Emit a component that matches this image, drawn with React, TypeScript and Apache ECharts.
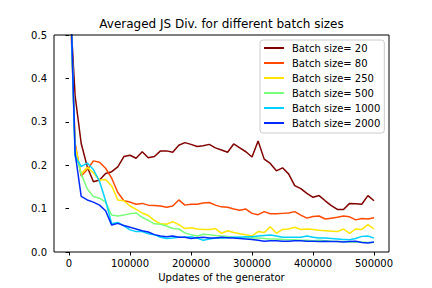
import React, { useEffect, useRef } from "react";
import * as echarts from "echarts";

const steps = [
  0, 10000, 20000, 30000, 40000, 50000, 60000, 70000, 80000, 90000,
  100000, 110000, 120000, 130000, 140000, 150000, 160000, 170000, 180000, 190000,
  200000, 210000, 220000, 230000, 240000, 250000, 260000, 270000, 280000, 290000,
  300000, 310000, 320000, 330000, 340000, 350000, 360000, 370000, 380000, 390000,
  400000, 410000, 420000, 430000, 440000, 450000, 460000, 470000, 480000, 490000,
  500000,
];

const batch20 = [
  0.61, 0.36, 0.25, 0.196, 0.162, 0.166, 0.181, 0.185, 0.196, 0.22,
  0.223, 0.216, 0.231, 0.217, 0.22, 0.233, 0.233, 0.23, 0.246, 0.252,
  0.248, 0.243, 0.245, 0.248, 0.24, 0.235, 0.23, 0.249, 0.24, 0.231,
  0.219, 0.256, 0.214, 0.204, 0.187, 0.194, 0.18, 0.153, 0.146, 0.135,
  0.126, 0.13, 0.118, 0.107, 0.098, 0.098, 0.112, 0.111, 0.11, 0.13,
  0.118,
];
const batch80 = [
  0.65, 0.251, 0.175, 0.19, 0.21, 0.207, 0.193, 0.17, 0.137, 0.118,
  0.115, 0.11, 0.112, 0.108, 0.107, 0.106, 0.103, 0.106, 0.12, 0.108,
  0.11, 0.11, 0.113, 0.114, 0.108, 0.104, 0.103, 0.099, 0.096, 0.099,
  0.089, 0.086, 0.093, 0.088, 0.088, 0.089, 0.09, 0.093, 0.085, 0.078,
  0.082, 0.083, 0.076, 0.078, 0.08, 0.083, 0.081, 0.074, 0.077, 0.076,
  0.079,
];
const batch250 = [
  0.68, 0.245, 0.18, 0.195, 0.182, 0.166, 0.167, 0.152, 0.12, 0.118,
  0.106, 0.098, 0.09, 0.084, 0.073, 0.065, 0.064, 0.07, 0.063, 0.054,
  0.056, 0.053, 0.052, 0.052, 0.054, 0.043, 0.049, 0.045, 0.042, 0.04,
  0.037, 0.047, 0.045, 0.058, 0.043, 0.052, 0.053, 0.057, 0.052, 0.053,
  0.052, 0.05, 0.049, 0.048, 0.047, 0.053, 0.043, 0.053, 0.052, 0.063,
  0.053,
];
const batch500 = [
  0.7, 0.23, 0.18, 0.145, 0.128, 0.124, 0.115, 0.085, 0.083, 0.085,
  0.088, 0.09, 0.08, 0.073, 0.065, 0.064, 0.06, 0.054, 0.053, 0.044,
  0.04, 0.037, 0.041, 0.04, 0.038, 0.037, 0.036, 0.034, 0.034, 0.033,
  0.032, 0.032, 0.031, 0.03, 0.03, 0.029, 0.028, 0.028, 0.027, 0.027,
  0.026, 0.027, 0.026, 0.025, 0.024, 0.024, 0.023, 0.023, 0.023, 0.022,
  0.022,
];
const batch1000 = [
  0.7, 0.22, 0.197, 0.205, 0.19, 0.163, 0.118, 0.065, 0.068, 0.06,
  0.051, 0.047, 0.047, 0.042, 0.04, 0.034, 0.031, 0.032, 0.034, 0.034,
  0.035, 0.032, 0.027, 0.03, 0.032, 0.032, 0.033, 0.034, 0.034, 0.035,
  0.035, 0.037, 0.038, 0.039, 0.037, 0.034, 0.034, 0.034, 0.034, 0.037,
  0.034, 0.032, 0.032, 0.031, 0.03, 0.029, 0.028, 0.031, 0.036, 0.037,
  0.032,
];
const batch2000 = [
  0.72, 0.228, 0.128, 0.12, 0.115, 0.108, 0.095, 0.062, 0.066, 0.061,
  0.057, 0.053, 0.049, 0.046, 0.04, 0.037, 0.035, 0.037, 0.034, 0.034,
  0.031, 0.033, 0.034, 0.032, 0.032, 0.034, 0.033, 0.032, 0.031, 0.03,
  0.029, 0.027, 0.025, 0.026, 0.026, 0.025, 0.025, 0.026, 0.026, 0.025,
  0.025, 0.024, 0.025, 0.024, 0.024, 0.023, 0.024, 0.025, 0.022, 0.021,
  0.023,
];

const seriesNames = [
  "Batch size= 20",
  "Batch size= 80",
  "Batch size= 250",
  "Batch size= 500",
  "Batch size= 1000",
  "Batch size= 2000",
];
const seriesValues = [batch20, batch80, batch250, batch500, batch1000, batch2000];
const seriesColors = ["#800000", "#ff4900", "#ffe600", "#7bff7b", "#00d1ff", "#002bff"];

const FONT = "DejaVu Sans";

export default function App() {
  const ref = useRef<HTMLDivElement>(null);

  useEffect(() => {
    if (!ref.current) return;
    const chart = echarts.init(ref.current, undefined, { renderer: "svg" });
    chart.setOption({
      animation: false,
      textStyle: { fontFamily: FONT },
      grid: { left: 69, right: 58, top: 35, bottom: 36, containLabel: false },
      graphic: [
        {
          type: "text",
          x: 221.5,
          y: 24,
          style: {
            text: "Averaged JS Div. for different batch sizes",
            font: `12px "${FONT}"`,
            fill: "#000",
            textAlign: "center",
            textVerticalAlign: "middle",
          },
        },
        {
          type: "rect",
          shape: { x: 54, y: 35, width: 335, height: 217 },
          style: { fill: "none", stroke: "#000", lineWidth: 1 },
          z: 10,
          silent: true,
        },
      ],
      legend: {
        orient: "vertical",
        left: 260,
        top: 40,
        padding: [2, 4, 4, 4],
        itemGap: 3,
        itemWidth: 20,
        itemHeight: 2,
        icon: "rect",
        backgroundColor: "rgba(255,255,255,0.8)",
        borderColor: "#cccccc",
        borderWidth: 1,
        borderRadius: 3,
        data: seriesNames,
        textStyle: {
          fontFamily: FONT,
          fontSize: 10,
          lineHeight: 12,
          color: "#000",
          padding: [0, 0, 0, 3],
        },
        z: 20,
      },
      xAxis: {
        type: "value",
        min: 0,
        max: 500000,
        interval: 100000,
        name: "Updates of the generator",
        nameLocation: "middle",
        nameGap: 20,
        nameTextStyle: { fontFamily: FONT, fontSize: 10, color: "#000" },
        axisLine: { show: false },
        axisTick: { show: true, inside: false, length: 3.5, lineStyle: { color: "#000", width: 1 } },
        axisLabel: {
          fontFamily: FONT,
          fontSize: 10,
          color: "#000",
          margin: 6,
          formatter: (v: number) => String(Math.round(v)),
        },
        splitLine: { show: false },
      },
      yAxis: {
        type: "value",
        min: 0,
        max: 0.5,
        interval: 0.1,
        offset: 15,
        axisLine: { show: false },
        axisTick: { show: true, inside: false, length: 3.5, lineStyle: { color: "#000", width: 1 } },
        axisLabel: {
          fontFamily: FONT,
          fontSize: 10,
          color: "#000",
          margin: 7,
          formatter: (v: number) => v.toFixed(1),
        },
        splitLine: { show: false },
      },
      series: seriesNames.map((name, i) => ({
        name,
        type: "line",
        data: steps.map((x, j) => [x, seriesValues[i][j]]),
        symbol: "none",
        showSymbol: false,
        clip: true,
        lineStyle: { color: seriesColors[i], width: 1.5 },
        itemStyle: { color: seriesColors[i] },
        emphasis: { disabled: true },
      })),
    });
    return () => chart.dispose();
  }, []);

  return (
    <div
      ref={ref}
      style={{ position: "fixed", left: 0, top: 0, width: 432, height: 288, background: "#fff" }}
    />
  );
}
